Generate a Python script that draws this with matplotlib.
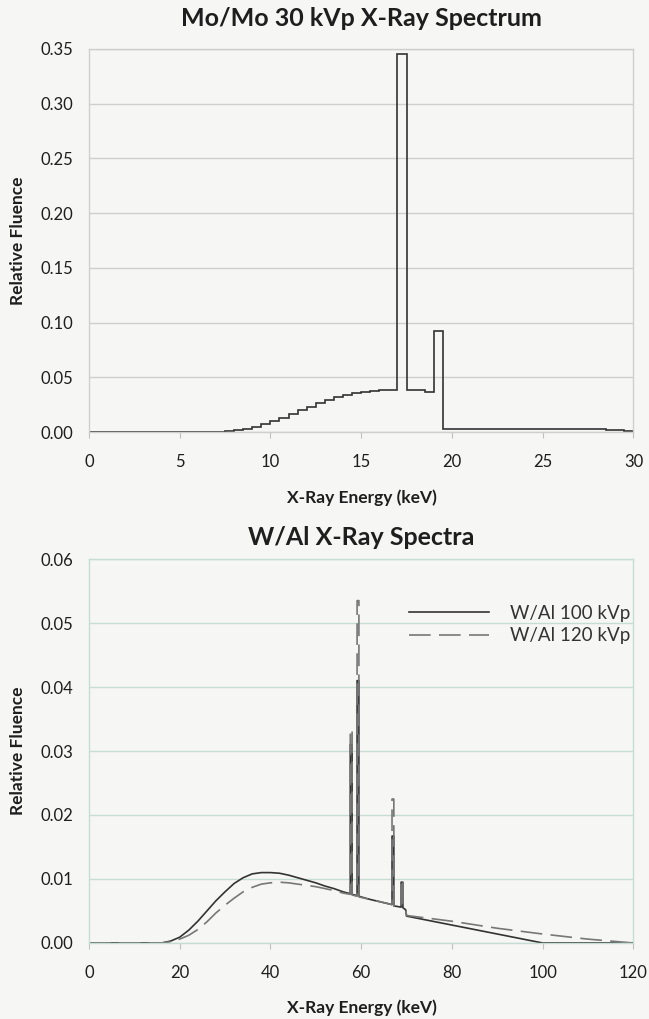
import numpy as np
import matplotlib
matplotlib.use("Agg")
import matplotlib.pyplot as plt

# Mo/Mo 30 kVp spectrum, 0.5 keV bins
mo_edges = np.arange(0, 30.5, 0.5)
mo_fluence = [
    0, 0, 0, 0, 0, 0, 0, 0, 0, 0, 0, 0,            # 0 - 6 keV
    0.0001, 0.0002, 0.0004, 0.0008,                 # 6 - 8
    0.0015, 0.0025, 0.0046, 0.0070,                 # 8 - 10
    0.0097, 0.0130, 0.0168, 0.0198,                 # 10 - 12
    0.0228, 0.0262, 0.0292, 0.0317,                 # 12 - 14
    0.0338, 0.0355, 0.0366, 0.0374,                 # 14 - 16
    0.0380, 0.0384, 0.345, 0.0387,                  # 16 - 18
    0.0381, 0.0366, 0.092, 0.0025,                  # 18 - 20
    0.0026, 0.0027, 0.0028, 0.0028, 0.0029, 0.0029, 0.0030, 0.0030,  # 20 - 24
    0.0030, 0.0030, 0.0030, 0.0030, 0.0029, 0.0029, 0.0028, 0.0027,  # 24 - 28
    0.0025, 0.0022, 0.0017, 0.0008,                 # 28 - 30
]

# W/Al spectra
w100_energy = [0, 16, 18, 20, 22, 24, 26, 28, 30, 32, 34, 36, 38, 40, 42, 44, 46, 48,
               50, 52, 54, 56,
               57.6, 57.6, 58.0, 58.0, 59.1, 59.1, 59.5, 59.5, 62,
               66.8, 66.8, 67.2, 67.2, 68.8, 68.8, 69.2, 69.2, 69.8, 70,
               80, 90, 100, 120]
w100_fluence = [0, 0, 0.0003, 0.0009, 0.0020, 0.0034, 0.0050, 0.0066, 0.0080, 0.0093,
                0.0102, 0.0108, 0.0110, 0.0110, 0.0109, 0.0106, 0.0102, 0.0098,
                0.0094, 0.0089, 0.0085, 0.0080,
                0.0077, 0.031, 0.031, 0.0076, 0.0074, 0.041, 0.041, 0.0073, 0.0068,
                0.0060, 0.0167, 0.0167, 0.0058, 0.0056, 0.0095, 0.0095, 0.0055, 0.0052, 0.0042,
                0.0028, 0.0014, 0, 0]

w120_energy = [0, 16, 18, 20, 22, 24, 26, 28, 30, 32, 34, 36, 38, 40, 42, 44, 46, 48,
               50, 52, 54, 56,
               57.6, 57.6, 58.0, 58.0, 59.1, 59.1, 59.5, 59.5, 62,
               66.8, 66.8, 67.2, 67.2, 68.8, 68.8, 69.2, 69.2, 69.8, 70,
               80, 90, 100, 110, 120]
w120_fluence = [0, 0, 0.0002, 0.0006, 0.0012, 0.0021, 0.0033, 0.0047, 0.0059, 0.0070,
                0.0080, 0.0087, 0.0092, 0.0094, 0.0095, 0.0094, 0.0092, 0.0090,
                0.0088, 0.0085, 0.0082, 0.0078,
                0.0076, 0.0334, 0.0334, 0.0075, 0.0073, 0.0535, 0.0535, 0.0072, 0.0068,
                0.0060, 0.0225, 0.0225, 0.0058, 0.0056, 0.0099, 0.0099, 0.0055, 0.0052, 0.0043,
                0.0034, 0.0023, 0.0014, 0.0006, 0]

plt.rcParams['font.family'] = ['Lato', 'DejaVu Sans']
bg = '#f6f6f4'
txt = '#1e1e1e'

fig = plt.figure(figsize=(6.49, 10.19), dpi=100, facecolor=bg)


def style(ax, gridcol, xmax, xstep, ymax, ystep, fmt):
    ax.set_facecolor(bg)
    ax.set_xlim(0, xmax)
    ax.set_ylim(0, ymax)
    ax.set_xticks(np.arange(0, xmax + 0.1, xstep))
    ax.set_yticks(np.arange(0, ymax + ystep / 2, ystep))
    ax.set_yticklabels([fmt % v for v in np.arange(0, ymax + ystep / 2, ystep)])
    ax.grid(axis='y', color=gridcol, lw=1)
    ax.set_axisbelow(True)
    for s in ax.spines.values():
        s.set_color(gridcol)
        s.set_linewidth(1)
    ax.tick_params(axis='x', length=4, color='#c0c0c0', pad=12, labelsize=12, labelcolor=txt)
    ax.tick_params(axis='y', length=0, pad=11, labelsize=12, labelcolor=txt)


# top chart
ax1 = fig.add_axes([0.137, 0.576, 0.839, 0.376])
ax1.stairs(mo_fluence, mo_edges, color='#333333', lw=1.2)
style(ax1, '#cfcfcf', 30, 5, 0.35, 0.05, '%.2f')
fig.text(0.557, 0.982, 'Mo/Mo 30 kVp X-Ray Spectrum', ha='center', va='center',
         fontsize=18, fontweight='bold', color=txt)
fig.text(0.557, 0.512, 'X-Ray Energy (keV)', ha='center', va='center',
         fontsize=12.5, fontweight='bold', color=txt)
fig.text(0.028, 0.764, 'Relative Fluence', ha='center', va='center', rotation=90,
         fontsize=12.5, fontweight='bold', color=txt)

# bottom chart
ax2 = fig.add_axes([0.137, 0.0746, 0.839, 0.3768])
ax2.plot(w100_energy, w100_fluence, color='#333333', lw=1.2, label='W/Al 100 kVp')
ax2.plot(w120_energy, w120_fluence, color='#777777', lw=1.2, dashes=(13, 5), label='W/Al 120 kVp')
style(ax2, '#c6ddd6', 120, 20, 0.06, 0.01, '%.2f')
fig.text(0.557, 0.473, 'W/Al X-Ray Spectra', ha='center', va='center',
         fontsize=18, fontweight='bold', color=txt)
fig.text(0.557, 0.0108, 'X-Ray Energy (keV)', ha='center', va='center',
         fontsize=12.5, fontweight='bold', color=txt)
fig.text(0.028, 0.263, 'Relative Fluence', ha='center', va='center', rotation=90,
         fontsize=12.5, fontweight='bold', color=txt)

ax2.legend(loc='upper left', bbox_to_anchor=(0.57, 0.905), frameon=False, fontsize=13.5,
           handlelength=4.3, handletextpad=1.1, borderpad=0, labelspacing=0.3,
           labelcolor='#333333')

fig.savefig('out.png', dpi=100, facecolor=bg)
